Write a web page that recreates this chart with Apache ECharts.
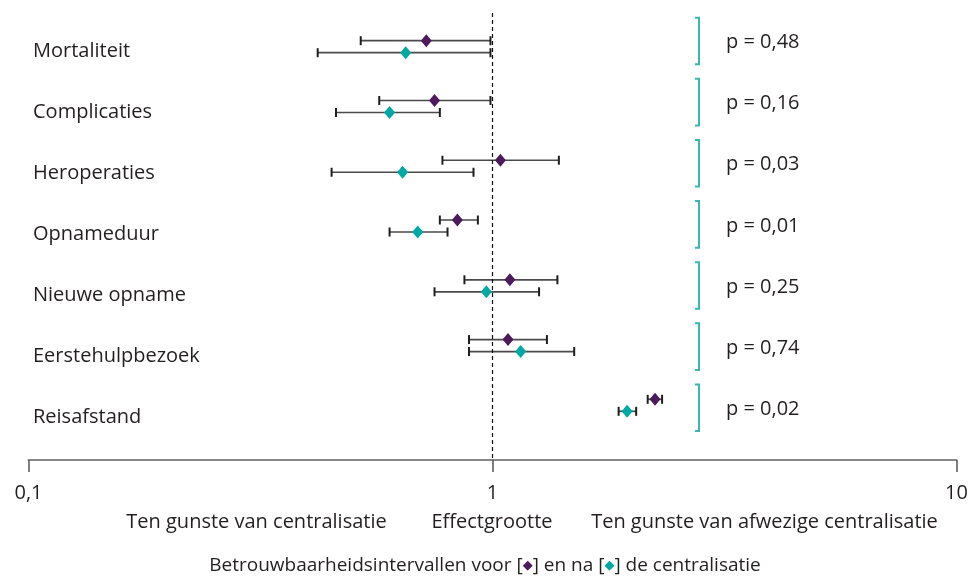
<!DOCTYPE html>
<html>
<head>
<meta charset="utf-8">
<script src="https://cdn.jsdelivr.net/npm/echarts@6/dist/echarts.min.js"></script>
<style>
html,body{margin:0;padding:0;background:#fff;}
#chart{width:971px;height:576px;}
</style>
</head>
<body>
<div id="chart"></div>
<script>
const categories = ['Mortaliteit','Complicaties','Heroperaties','Opnameduur','Nieuwe opname','Eerstehulpbezoek','Reisafstand'];
const pValues = ['p = 0,48','p = 0,16','p = 0,03','p = 0,01','p = 0,25','p = 0,74','p = 0,02'];
const voorLow  = [0.52, 0.57, 0.78, 0.77, 0.87, 0.89, 2.16];
const voorEst  = [0.72, 0.75, 1.04, 0.84, 1.09, 1.08, 2.24];
const voorHigh = [0.99, 0.99, 1.39, 0.93, 1.38, 1.31, 2.32];
const naLow    = [0.42, 0.46, 0.45, 0.60, 0.75, 0.89, 1.87];
const naEst    = [0.65, 0.60, 0.64, 0.69, 0.97, 1.15, 1.95];
const naHigh   = [0.99, 0.77, 0.91, 0.80, 1.26, 1.50, 2.04];
const xTicks = [0.1, 1, 10];
const bottomLabels = ['Ten gunste van centralisatie','Effectgrootte','Ten gunste van afwezige centralisatie'];

const FONT = '"Open Sans", "DejaVu Sans", sans-serif';
const FS = 20;
const TXT = '#231f20';
const PURPLE = '#4d1a5c';
const TEAL = '#00a9a4';
const BRACKET = '#3bb8ae';

function makeRender(offset, color) {
  return function (params, api) {
    const row = api.value(3);
    const pL = api.coord([api.value(0), row]);
    const pM = api.coord([api.value(1), row]);
    const pH = api.coord([api.value(2), row]);
    const y = pL[1] + offset;
    const capH = 4.5;
    return {
      type: 'group',
      children: [
        {type:'line', shape:{x1:pL[0], y1:y, x2:pH[0], y2:y}, style:{stroke:'#4a4a4a', lineWidth:1.7}},
        {type:'line', shape:{x1:pL[0], y1:y-capH, x2:pL[0], y2:y+capH}, style:{stroke:'#1e1e1e', lineWidth:2}},
        {type:'line', shape:{x1:pH[0], y1:y-capH, x2:pH[0], y2:y+capH}, style:{stroke:'#1e1e1e', lineWidth:2}},
        {type:'polygon', shape:{points:[[pM[0], y-6.5],[pM[0]+5.5, y],[pM[0], y+6.5],[pM[0]-5.5, y]]}, style:{fill:color}}
      ]
    };
  };
}

function renderP(params, api) {
  const yLab = api.coord([0, api.value(1)])[1];
  const c = yLab - 10;
  const bx = 699;
  return {
    type: 'group',
    children: [
      {type:'polyline', shape:{points:[[695, c-23.3],[bx, c-23.3],[bx, c+23.3],[695, c+23.3]]}, style:{stroke:BRACKET, lineWidth:2, fill:null}},
      {type:'text', x:726, y:yLab-8.5, style:{text:pValues[api.value(1)], font:FS + 'px ' + FONT, fill:TXT, verticalAlign:'middle', align:'left'}}
    ]
  };
}

const chart = echarts.init(document.getElementById('chart'));
chart.setOption({
  animation: false,
  backgroundColor: '#fff',
  grid: [
    {left: 28.5, right: 14.5, top: 13, bottom: 116},
    {left: 33, width: 900, top: 20.4, height: 427.9}
  ],
  xAxis: [
    {
      type: 'log', logBase: 10, min: 0.1, max: 10, gridIndex: 0, position: 'bottom',
      axisLine: {show: true, onZero: false, lineStyle: {color: '#888', width: 2}},
      axisTick: {show: true, length: 12, lineStyle: {color: '#555', width: 1.5}, customValues: xTicks},
      splitLine: {show: false},
      minorTick: {show: false},
      axisLabel: {
        margin: 23, fontSize: 20, color: TXT, fontFamily: FONT,
        formatter: function (v) { return String(v).replace('.', ','); },
        customValues: xTicks
      }
    },
    {type: 'value', gridIndex: 1, min: 0, max: 1, show: false}
  ],
  yAxis: [
    {type: 'value', gridIndex: 0, inverse: true, min: -0.564, max: 6.915, show: false},
    {
      type: 'category', gridIndex: 1, inverse: true, data: categories,
      axisLine: {show: false}, axisTick: {show: false}, splitLine: {show: false},
      axisLabel: {inside: true, margin: 0, fontSize: FS, color: TXT, fontFamily: FONT}
    }
  ],
  series: [
    {
      type: 'custom', name: 'voor', xAxisIndex: 0, yAxisIndex: 0,
      renderItem: makeRender(-6, PURPLE),
      encode: {x: [0, 1, 2], y: 3},
      data: categories.map((c, i) => [voorLow[i], voorEst[i], voorHigh[i], i]),
      markLine: {
        silent: true, symbol: 'none', label: {show: false},
        lineStyle: {color: '#111', type: [4, 3], width: 1.2},
        data: [{xAxis: 1}]
      },
      z: 3
    },
    {
      type: 'custom', name: 'na', xAxisIndex: 0, yAxisIndex: 0,
      renderItem: makeRender(6, TEAL),
      encode: {x: [0, 1, 2], y: 3},
      data: categories.map((c, i) => [naLow[i], naEst[i], naHigh[i], i]),
      z: 3
    },
    {
      type: 'custom', name: 'p', xAxisIndex: 1, yAxisIndex: 1,
      renderItem: renderP,
      encode: {x: 0, y: 1},
      data: categories.map((c, i) => [0, i])
    }
  ],
  graphic: [
    {type:'text', x:256.5, y:522, style:{text:bottomLabels[0], font:FS + 'px ' + FONT, fill:TXT, align:'center', verticalAlign:'middle'}},
    {type:'text', x:492, y:522, style:{text:bottomLabels[1], font:FS + 'px ' + FONT, fill:TXT, align:'center', verticalAlign:'middle'}},
    {type:'text', x:764.5, y:522, style:{text:bottomLabels[2], font:FS + 'px ' + FONT, fill:TXT, align:'center', verticalAlign:'middle'}},
    {type:'text', x:485, y:566, style:{
      text:'Betrouwbaarheidsintervallen voor [{p|◆}] en na [{t|◆}] de centralisatie',
      font:'19px ' + FONT, fill:TXT, align:'center', verticalAlign:'middle',
      rich:{p:{fill:PURPLE, fontSize:13, fontFamily:'"DejaVu Sans"'}, t:{fill:TEAL, fontSize:13, fontFamily:'"DejaVu Sans"'}}
    }}
  ]
});
</script>
</body>
</html>
